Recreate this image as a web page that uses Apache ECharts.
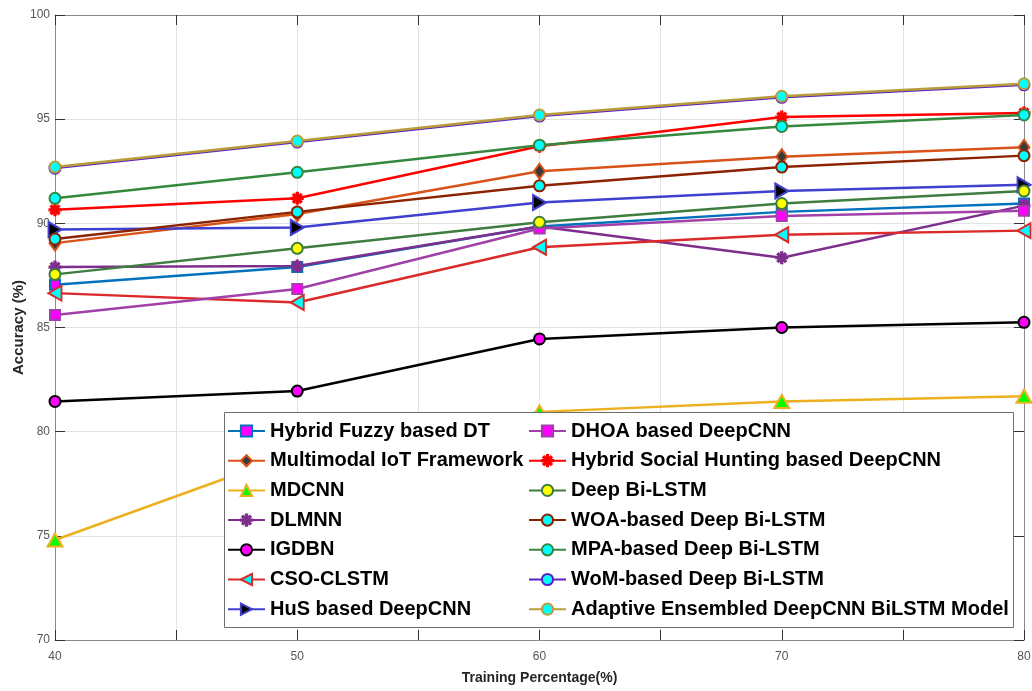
<!DOCTYPE html>
<html>
<head>
<meta charset="utf-8">
<script src="https://cdn.jsdelivr.net/npm/echarts@6/dist/echarts.min.js"></script>
<style>html,body{margin:0;padding:0;background:#fff;}#c{width:1032px;height:691px;}</style>
</head>
<body>
<div id="c"></div>
<script>
// ---- data ----
const trainingPct = [40, 50, 60, 70, 80];
const hybridFuzzy   = [87.05, 87.9, 89.85, 90.55, 90.95];
const multimodalIoT = [89.05, 90.45, 92.5, 93.2, 93.65];
const mdcnn         = [74.8, 79.0, 80.95, 81.45, 81.7];
const dlmnn         = [87.9, 87.95, 89.85, 88.35, 90.85];
const igdbn         = [81.45, 81.95, 84.45, 85.0, 85.25];
const csoClstm      = [86.65, 86.2, 88.85, 89.45, 89.65];
const husDeepCnn    = [89.7, 89.8, 91.0, 91.55, 91.85];
const dhoaDeepCnn   = [85.6, 86.85, 89.75, 90.35, 90.6];
const hybridSocial  = [90.65, 91.2, 93.7, 95.1, 95.3];
const deepBiLstm    = [87.55, 88.8, 90.05, 90.95, 91.55];
const woaBiLstm     = [89.25, 90.55, 91.8, 92.7, 93.25];
const mpaBiLstm     = [91.2, 92.45, 93.75, 94.65, 95.2];
const womBiLstm     = [92.65, 93.9, 95.15, 96.05, 96.65];
const adaptiveModel = [92.7, 93.95, 95.2, 96.1, 96.7];
const seriesNames = [
  'Hybrid Fuzzy based DT', 'Multimodal IoT Framework', 'MDCNN', 'DLMNN', 'IGDBN', 'CSO-CLSTM', 'HuS based DeepCNN',
  'DHOA based DeepCNN', 'Hybrid Social Hunting based DeepCNN', 'Deep Bi-LSTM', 'WOA-based Deep Bi-LSTM',
  'MPA-based Deep Bi-LSTM', 'WoM-based Deep Bi-LSTM', 'Adaptive Ensembled DeepCNN BiLSTM Model'
];
const yTicks = { min: 70, max: 100, interval: 5 };
const xTicks = { min: 40, max: 80, interval: 5 };

// ---- styles ----
const asterisk = 'path://M4.4,0 L5.6,0 L5.6,4.4 L10,4.4 L10,5.6 L5.6,5.6 L5.6,10 L4.4,10 L4.4,5.6 L0,5.6 L0,4.4 L4.4,4.4 Z M1.2,2.05 L2.05,1.2 L8.8,7.95 L7.95,8.8 Z M7.95,1.2 L8.8,2.05 L2.05,8.8 L1.2,7.95 Z';
const styles = [
  { data: hybridFuzzy,   line: '#0072BD', symbol: 'rect',     size: 10, fill: '#FF00FF', edge: '#0072BD' },
  { data: multimodalIoT, line: '#D95319', symbol: 'diamond',  size: [11, 15], fill: '#3a3a3a', edge: '#D95319' },
  { data: mdcnn,         line: '#EDB120', symbol: 'triangle', size: [15, 13], fill: '#00FF00', edge: '#EDB120' },
  { data: dlmnn,         line: '#7E2F8E', symbol: asterisk,   size: 11, fill: '#7E2F8E', edge: '#7E2F8E' },
  { data: igdbn,         line: '#000000', symbol: 'circle',   size: 11, fill: '#FF00FF', edge: '#000000' },
  { data: csoClstm,      line: '#DA2A2A', symbol: 'triangle', size: [15, 13], fill: '#00FFFF', edge: '#DA2A2A', rotate: 90 },
  { data: husDeepCnn,    line: '#4040D0', symbol: 'triangle', size: [15, 13], fill: '#000000', edge: '#4040D0', rotate: -90 },
  { data: dhoaDeepCnn,   line: '#A040A8', symbol: 'rect',     size: 10, fill: '#FF00FF', edge: '#A040A8' },
  { data: hybridSocial,  line: '#FF0000', symbol: asterisk,   size: 11, fill: '#FF0000', edge: '#FF0000' },
  { data: deepBiLstm,    line: '#3E7D3E', symbol: 'circle',   size: 11, fill: '#FFFF00', edge: '#3E7D3E' },
  { data: woaBiLstm,     line: '#8B2200', symbol: 'circle',   size: 11, fill: '#00FFFF', edge: '#8B2200' },
  { data: mpaBiLstm,     line: '#35893F', symbol: 'circle',   size: 11, fill: '#00FFFF', edge: '#35893F' },
  { data: womBiLstm,     line: '#5A22C8', symbol: 'circle',   size: 11, fill: '#00FFFF', edge: '#5A22C8' },
  { data: adaptiveModel, line: '#B99D3C', symbol: 'circle',   size: 11, fill: '#00FFFF', edge: '#B99D3C' }
];

const series = styles.map((s, i) => ({
  name: seriesNames[i],
  type: 'line',
  z: 2,
  data: trainingPct.map((x, k) => [x, s.data[k]]),
  symbol: s.symbol,
  symbolSize: s.size,
  symbolRotate: s.rotate || 0,
  showAllSymbol: true,
  lineStyle: { color: s.line, width: 2.5 },
  itemStyle: { color: s.fill, borderColor: s.edge, borderWidth: 2 },
  emphasis: { disabled: true },
  animation: false
}));

const font = 'Liberation Sans, Arial, sans-serif';
const legendCommon = {
  orient: 'vertical', top: 421, padding: 0, itemWidth: 37, itemHeight: 14, itemGap: 9.7, z: 6,
  selectedMode: false,
  textStyle: { fontSize: 20, fontWeight: 'bold', color: '#000', fontFamily: font, lineHeight: 20 }
};

const chart = echarts.init(document.getElementById('c'), null, { renderer: 'canvas' });
chart.setOption({
  animation: false,
  backgroundColor: '#fff',
  grid: { left: 55, right: 8, top: 15, bottom: 51, containLabel: false, outerBoundsMode: 'none' },
  xAxis: [{
    type: 'value', min: xTicks.min, max: xTicks.max, interval: xTicks.interval,
    name: 'Training Percentage(%)', nameLocation: 'middle', nameGap: 31, nameMoveOverlap: false,
    nameTextStyle: { fontSize: 14, fontWeight: 'bold', color: '#262626', fontFamily: font },
    axisLine: { lineStyle: { color: '#8a8a8a', width: 1 } },
    axisTick: { inside: true, length: 10, lineStyle: { color: '#333' } },
    axisLabel: { color: '#555', fontSize: 12, fontFamily: font, margin: 11,
      formatter: v => (v % 10 === 0 ? String(v) : '') },
    splitLine: { show: true, lineStyle: { color: '#e3e3e3', width: 1 } }
  }, {
    type: 'value', position: 'top', min: xTicks.min, max: xTicks.max, interval: xTicks.interval,
    axisLine: { lineStyle: { color: '#8a8a8a' } },
    axisTick: { inside: true, length: 10, lineStyle: { color: '#333' } },
    axisLabel: { show: false }, splitLine: { show: false }
  }],
  yAxis: [{
    type: 'value', min: yTicks.min, max: yTicks.max, interval: yTicks.interval,
    name: 'Accuracy (%)', nameLocation: 'middle', nameGap: 29, nameMoveOverlap: false,
    nameTextStyle: { fontSize: 15, fontWeight: 'bold', color: '#262626', fontFamily: font },
    axisLine: { show: true, lineStyle: { color: '#8a8a8a' } },
    axisTick: { show: true, inside: true, length: 10, lineStyle: { color: '#333' } },
    axisLabel: { color: '#555', fontSize: 12, fontFamily: font, margin: 5 },
    splitLine: { show: true, lineStyle: { color: '#e3e3e3', width: 1 } }
  }, {
    type: 'value', position: 'right', min: yTicks.min, max: yTicks.max, interval: yTicks.interval,
    axisLine: { show: true, lineStyle: { color: '#8a8a8a' } },
    axisTick: { show: true, inside: true, length: 10, lineStyle: { color: '#333' } },
    axisLabel: { show: false }, splitLine: { show: false }
  }],
  legend: [
    Object.assign({}, legendCommon, { left: 227, data: seriesNames.slice(0, 7) }),
    Object.assign({}, legendCommon, { left: 528, data: seriesNames.slice(7) })
  ],
  graphic: [{
    type: 'rect', z: 4, silent: true,
    shape: { x: 224.5, y: 412.5, width: 789, height: 215 },
    style: { fill: '#fff', stroke: '#6e6e6e', lineWidth: 1 }
  }],
  series: series
});
</script>
</body>
</html>
